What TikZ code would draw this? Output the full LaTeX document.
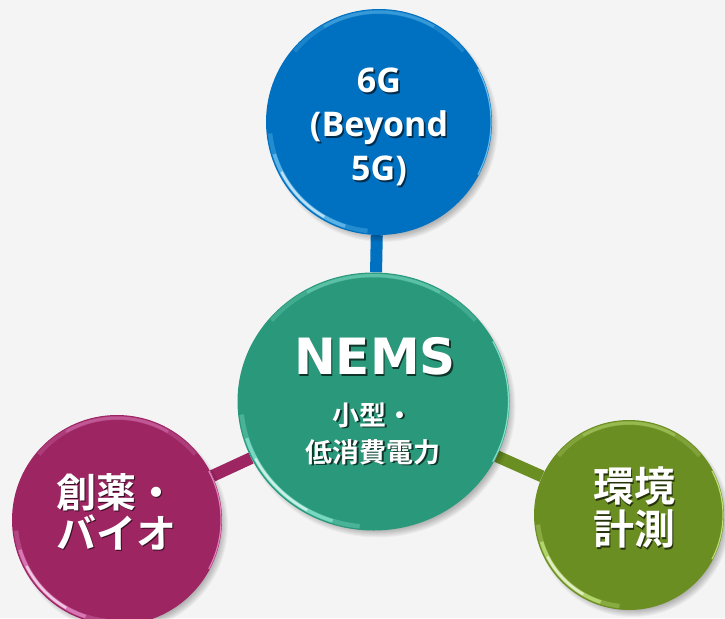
\documentclass[tikz,border=0pt]{standalone}
\usepackage{fontspec}
\newfontfamily\jpf{Noto Sans CJK JP}[BoldFont={* Bold}]
\newfontfamily\latf{Open Sans}
\newfontfamily\nemsf{DejaVu Sans}
\usetikzlibrary{backgrounds,shapes.geometric,calc}
\definecolor{bgc}{HTML}{F4F4F4}
\definecolor{cblue}{HTML}{0070C0}
\definecolor{cteal}{HTML}{2A997B}
\definecolor{cmag}{HTML}{9C2562}
\definecolor{cgrn}{HTML}{6B8E23}
\definecolor{lblue}{HTML}{8FDCFF}
\definecolor{lteal}{HTML}{A8FFEE}
\definecolor{lmag}{HTML}{FFA8E8}
\definecolor{lgrn}{HTML}{E0FF98}
\tikzset{
  bubble/.style 2 args={ellipse,inner sep=0pt,minimum width=#1,minimum height=#2},
  conn/.style={line width=12pt},
  lbl/.style={text=white,align=center,inner sep=0pt},
}
% shadowed text: #1 shadow colour, #2 text
\newcommand\shd[2]{\leavevmode\rlap{\kern1.7pt\raisebox{-1.7pt}{\textcolor{#1}{#2}}}\textcolor{white}{#2}}
\newcommand\bubshadow[4]{%
  \foreach \i in {0,...,7}{\fill[black,opacity=0.035] (#1+4,#2+5) ellipse[x radius={(#3-5+\i)*1pt},y radius={(#4-5+\i)*1pt}];}}
% node, x radius, y radius, inset, start, end, style
\newcommand\bubarc[7]{%
  \draw[#7] ($(#1.center)+({(#2-#4)*cos(#5)*1pt},{-(#3-#4)*sin(#5)})$) arc[start angle=#5,end angle=#6,x radius={(#2-#4)*1pt},y radius={(#3-#4)*1pt}];}
\newcommand\bubshine[4]{%
  \bubarc{#1}{#2}{#3}{3}{140}{40}{line width=4pt,#4,opacity=0.18}
  \bubarc{#1}{#2}{#3}{3}{120}{60}{line width=3pt,#4,opacity=0.25}
  \bubarc{#1}{#2}{#3}{3.5}{186}{264}{line width=4.5pt,#4,opacity=0.25}
  \bubarc{#1}{#2}{#3}{3.5}{197}{252}{line width=3.5pt,#4,opacity=0.5}
  \bubarc{#1}{#2}{#3}{3.5}{207}{240}{line width=2.5pt,white,opacity=0.6}
  \bubarc{#1}{#2}{#3}{1}{-28}{28}{line width=1.2pt,#4,opacity=0.7}
}
\begin{document}
\begin{tikzpicture}[x=1pt,y=-1pt]
\useasboundingbox (0,0) rectangle (725,618);

% bubbles
\node[bubble={226pt}{226pt},fill=cblue] (B) at (379,122) {};
\node[bubble={272pt}{258pt},fill=cteal] (N) at (373.5,401.5) {};
\node[bubble={210pt}{210pt},fill=cmag] (M) at (117,520) {};
\node[bubble={190pt}{190pt},fill=cgrn] (G) at (629,515) {};

\begin{pgfonlayer}{background}
  \fill[bgc] (0,0) rectangle (725,618);
  \draw[conn,cblue] (B) -- (N);
  \draw[conn,cmag] (N) -- (M);
  \draw[conn,cgrn] (N) -- (G);
  \bubshadow{379}{122}{113}{113}
  \bubshadow{373.5}{401.5}{136}{129}
  \bubshadow{117}{520}{105}{105}
  \bubshadow{629}{515}{95}{95}
\end{pgfonlayer}

\bubshine{B}{113}{113}{lblue}
\bubshine{N}{136}{129}{lteal}
\bubshine{M}{105}{105}{lmag}
\bubshine{G}{95}{95}{lgrn}

% labels
\node[lbl,font=\latf\bfseries\fontsize{34}{44}\selectfont] (tB) at (379,128)
  {\shd{black!60!cblue}{6G}\\\shd{black!60!cblue}{(Beyond}\\\shd{black!60!cblue}{5G)}};

\node[lbl,font=\nemsf\bfseries\fontsize{50}{60}\selectfont] (tN) at (375,357.5)
  {\shd{black!65!cteal}{NEMS}};

\node[lbl,font=\jpf\bfseries\fontsize{27}{37}\selectfont] (tN2) at (373,434.5)
  {\shd{black!65!cteal}{小型・}\\\shd{black!65!cteal}{低消費電力}};

\node[lbl,font=\jpf\bfseries\fontsize{40}{41}\selectfont] (tM) at (116,512.5)
  {\shd{black!65!cmag}{創薬・}\\\shd{black!65!cmag}{バイオ}};

\node[lbl,font=\jpf\bfseries\fontsize{41}{43}\selectfont] (tG) at (634,508.5)
  {\shd{black!65!cgrn}{環境}\\\shd{black!65!cgrn}{計測}};
\end{tikzpicture}
\end{document}
